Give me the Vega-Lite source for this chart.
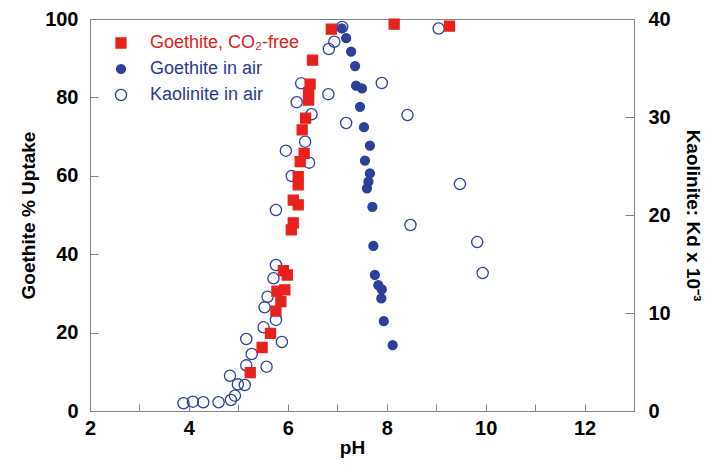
{
  "$schema": "https://vega.github.io/schema/vega-lite/v6.json",
  "width": 544,
  "height": 392,
  "autosize": {"type": "none"},
  "padding": {"left": 90, "top": 19, "right": 82, "bottom": 54},
  "background": "white",
  "config": {
    "font": "Liberation Sans",
    "view": {"stroke": "#808080", "strokeWidth": 1},
    "axis": {
      "grid": false,
      "domainColor": "#808080",
      "tickColor": "#808080",
      "labelFont": "Liberation Sans",
      "labelFontWeight": "bold",
      "labelFontSize": 20,
      "labelColor": "#000000",
      "labelFlush": false,
      "labelOverlap": false,
      "titleFont": "Liberation Sans",
      "titleFontWeight": "bold",
      "titleFontSize": 19,
      "titleColor": "#000000"
    }
  },
  "data": {
    "values": [
      {"series": "Kaolinite in air", "pH": 3.89, "kd": 0.79},
      {"series": "Kaolinite in air", "pH": 4.08, "kd": 0.95},
      {"series": "Kaolinite in air", "pH": 4.29, "kd": 0.89},
      {"series": "Kaolinite in air", "pH": 4.6, "kd": 0.89},
      {"series": "Kaolinite in air", "pH": 4.85, "kd": 1.12},
      {"series": "Kaolinite in air", "pH": 4.93, "kd": 1.56},
      {"series": "Kaolinite in air", "pH": 4.99, "kd": 2.72},
      {"series": "Kaolinite in air", "pH": 5.13, "kd": 2.65},
      {"series": "Kaolinite in air", "pH": 4.83, "kd": 3.6},
      {"series": "Kaolinite in air", "pH": 5.16, "kd": 4.66},
      {"series": "Kaolinite in air", "pH": 5.57, "kd": 4.52},
      {"series": "Kaolinite in air", "pH": 5.27, "kd": 5.82},
      {"series": "Kaolinite in air", "pH": 5.16, "kd": 7.35},
      {"series": "Kaolinite in air", "pH": 5.88, "kd": 7.04},
      {"series": "Kaolinite in air", "pH": 5.51, "kd": 8.54},
      {"series": "Kaolinite in air", "pH": 5.76, "kd": 9.29},
      {"series": "Kaolinite in air", "pH": 5.53, "kd": 10.58},
      {"series": "Kaolinite in air", "pH": 5.59, "kd": 11.66},
      {"series": "Kaolinite in air", "pH": 5.71, "kd": 13.54},
      {"series": "Kaolinite in air", "pH": 5.76, "kd": 14.9},
      {"series": "Kaolinite in air", "pH": 5.76, "kd": 20.51},
      {"series": "Kaolinite in air", "pH": 6.08, "kd": 23.98},
      {"series": "Kaolinite in air", "pH": 5.96, "kd": 26.56},
      {"series": "Kaolinite in air", "pH": 6.43, "kd": 25.34},
      {"series": "Kaolinite in air", "pH": 6.35, "kd": 27.48},
      {"series": "Kaolinite in air", "pH": 6.48, "kd": 30.28},
      {"series": "Kaolinite in air", "pH": 6.18, "kd": 31.51},
      {"series": "Kaolinite in air", "pH": 6.27, "kd": 33.44},
      {"series": "Kaolinite in air", "pH": 6.82, "kd": 32.33},
      {"series": "Kaolinite in air", "pH": 7.18, "kd": 29.39},
      {"series": "Kaolinite in air", "pH": 6.83, "kd": 36.94},
      {"series": "Kaolinite in air", "pH": 6.94, "kd": 37.68},
      {"series": "Kaolinite in air", "pH": 7.1, "kd": 39.18},
      {"series": "Kaolinite in air", "pH": 7.9, "kd": 33.47},
      {"series": "Kaolinite in air", "pH": 8.42, "kd": 30.2},
      {"series": "Kaolinite in air", "pH": 8.48, "kd": 18.98},
      {"series": "Kaolinite in air", "pH": 9.48, "kd": 23.16},
      {"series": "Kaolinite in air", "pH": 9.05, "kd": 39.03},
      {"series": "Kaolinite in air", "pH": 9.83, "kd": 17.24},
      {"series": "Kaolinite in air", "pH": 9.94, "kd": 14.08},

      {"series": "Goethite, CO₂-free", "pH": 5.24, "uptake": 9.8},
      {"series": "Goethite, CO₂-free", "pH": 5.48, "uptake": 16.2},
      {"series": "Goethite, CO₂-free", "pH": 5.65, "uptake": 19.8},
      {"series": "Goethite, CO₂-free", "pH": 5.76, "uptake": 25.5},
      {"series": "Goethite, CO₂-free", "pH": 5.86, "uptake": 27.9},
      {"series": "Goethite, CO₂-free", "pH": 5.78, "uptake": 30.6},
      {"series": "Goethite, CO₂-free", "pH": 5.94, "uptake": 30.9},
      {"series": "Goethite, CO₂-free", "pH": 5.91, "uptake": 35.8},
      {"series": "Goethite, CO₂-free", "pH": 5.99, "uptake": 34.7},
      {"series": "Goethite, CO₂-free", "pH": 6.07, "uptake": 46.2},
      {"series": "Goethite, CO₂-free", "pH": 6.11, "uptake": 48.0},
      {"series": "Goethite, CO₂-free", "pH": 6.21, "uptake": 52.6},
      {"series": "Goethite, CO₂-free", "pH": 6.11, "uptake": 53.8},
      {"series": "Goethite, CO₂-free", "pH": 6.21, "uptake": 57.7},
      {"series": "Goethite, CO₂-free", "pH": 6.21, "uptake": 59.8},
      {"series": "Goethite, CO₂-free", "pH": 6.25, "uptake": 63.6},
      {"series": "Goethite, CO₂-free", "pH": 6.33, "uptake": 65.7},
      {"series": "Goethite, CO₂-free", "pH": 6.29, "uptake": 71.7},
      {"series": "Goethite, CO₂-free", "pH": 6.36, "uptake": 74.7},
      {"series": "Goethite, CO₂-free", "pH": 6.42, "uptake": 79.3},
      {"series": "Goethite, CO₂-free", "pH": 6.42, "uptake": 81.1},
      {"series": "Goethite, CO₂-free", "pH": 6.45, "uptake": 83.4},
      {"series": "Goethite, CO₂-free", "pH": 6.5, "uptake": 89.5},
      {"series": "Goethite, CO₂-free", "pH": 6.88, "uptake": 97.4},
      {"series": "Goethite, CO₂-free", "pH": 8.15, "uptake": 98.7},
      {"series": "Goethite, CO₂-free", "pH": 9.27, "uptake": 98.2},

      {"series": "Goethite in air", "pH": 7.09, "uptake": 97.6},
      {"series": "Goethite in air", "pH": 7.18, "uptake": 95.1},
      {"series": "Goethite in air", "pH": 7.28, "uptake": 91.7},
      {"series": "Goethite in air", "pH": 7.36, "uptake": 88.0},
      {"series": "Goethite in air", "pH": 7.38, "uptake": 83.0},
      {"series": "Goethite in air", "pH": 7.5, "uptake": 82.3},
      {"series": "Goethite in air", "pH": 7.46, "uptake": 77.6},
      {"series": "Goethite in air", "pH": 7.54, "uptake": 72.4},
      {"series": "Goethite in air", "pH": 7.66, "uptake": 67.7},
      {"series": "Goethite in air", "pH": 7.56, "uptake": 63.9},
      {"series": "Goethite in air", "pH": 7.66, "uptake": 60.6},
      {"series": "Goethite in air", "pH": 7.63, "uptake": 58.5},
      {"series": "Goethite in air", "pH": 7.6, "uptake": 56.8},
      {"series": "Goethite in air", "pH": 7.71, "uptake": 52.1},
      {"series": "Goethite in air", "pH": 7.73, "uptake": 42.1},
      {"series": "Goethite in air", "pH": 7.76, "uptake": 34.7},
      {"series": "Goethite in air", "pH": 7.83, "uptake": 32.1},
      {"series": "Goethite in air", "pH": 7.9, "uptake": 31.0},
      {"series": "Goethite in air", "pH": 7.89, "uptake": 28.7},
      {"series": "Goethite in air", "pH": 7.94, "uptake": 22.9},
      {"series": "Goethite in air", "pH": 8.12, "uptake": 16.8}
    ]
  },
  "encoding": {
    "x": {
      "field": "pH",
      "type": "quantitative",
      "scale": {"domain": [2, 13], "nice": false, "zero": false},
      "axis": {
        "title": "pH",
        "format": "d",
        "values": [2, 2.5, 3, 3.5, 4, 4.5, 5, 5.5, 6, 6.5, 7, 7.5, 8, 8.5, 9, 9.5, 10, 10.5, 11, 11.5, 12, 12.5],
        "labelExpr": "datum.value % 2 === 0 ? datum.label : ''",
        "tickSize": -7,
        "labelPadding": 14,
        "titleX": 262,
        "titleY": 36,
        "titleBaseline": "middle",
        "titleAlign": "center"
      }
    }
  },
  "layer": [
    {
      "transform": [{"filter": "datum.series === 'Kaolinite in air'"}],
      "mark": {"type": "point", "opacity": 1, "strokeWidth": 1.3},
      "encoding": {
        "y": {
          "field": "kd",
          "type": "quantitative",
          "scale": {"domain": [0, 40], "nice": false},
          "axis": {
            "orient": "right",
            "title": "Kaolinite: Kd x 10⁻³",
            "values": [0, 10, 20, 30, 40],
            "tickSize": -9,
            "labelPadding": 23,
            "titleX": 58,
            "titleY": 196,
            "titleAngle": 90,
            "titleBaseline": "middle",
            "titleAlign": "center"
          }
        },
        "shape": {
          "field": "series",
          "type": "nominal",
          "scale": {"domain": ["Goethite, CO₂-free", "Goethite in air", "Kaolinite in air"], "range": ["square", "circle", "circle"]},
          "legend": {
            "title": null,
            "orient": "none",
            "legendX": 22,
            "legendY": 15,
            "labelFont": "Liberation Sans",
            "labelFontSize": 18,
            "labelFontWeight": "normal",
            "labelOffset": 20,
            "rowPadding": 8,
            "symbolStrokeWidth": 1.3,
            "labelColor": {"expr": "datum.label === 'Goethite, CO₂-free' ? '#e0201b' : '#2b3990'"}
          }
        },
        "fill": {
          "field": "series",
          "type": "nominal",
          "scale": {"domain": ["Goethite, CO₂-free", "Goethite in air", "Kaolinite in air"], "range": ["#e8211c", "#2c3f9b", "transparent"]}
        },
        "stroke": {
          "field": "series",
          "type": "nominal",
          "scale": {"domain": ["Goethite, CO₂-free", "Goethite in air", "Kaolinite in air"], "range": ["#e8211c", "#2c3f9b", "#2c3f9b"]}
        },
        "size": {
          "field": "series",
          "type": "nominal",
          "scale": {"type": "ordinal", "domain": ["Goethite, CO₂-free", "Goethite in air", "Kaolinite in air"], "range": [100, 80, 125]}
        }
      }
    },
    {
      "transform": [{"filter": "datum.series !== 'Kaolinite in air'"}],
      "mark": {"type": "point", "opacity": 1, "strokeWidth": 1.3},
      "encoding": {
        "y": {
          "field": "uptake",
          "type": "quantitative",
          "scale": {"domain": [0, 100], "nice": false},
          "axis": {
            "orient": "left",
            "title": "Goethite % Uptake",
            "values": [0, 20, 40, 60, 80, 100],
            "tickSize": -8,
            "labelPadding": 20,
            "titleX": -62,
            "titleY": 196,
            "titleAngle": -90,
            "titleBaseline": "middle",
            "titleAlign": "center"
          }
        },
        "shape": {
          "field": "series",
          "type": "nominal",
          "scale": {"domain": ["Goethite, CO₂-free", "Goethite in air", "Kaolinite in air"], "range": ["square", "circle", "circle"]}
        },
        "fill": {
          "field": "series",
          "type": "nominal",
          "scale": {"domain": ["Goethite, CO₂-free", "Goethite in air", "Kaolinite in air"], "range": ["#e8211c", "#2c3f9b", "transparent"]}
        },
        "stroke": {
          "field": "series",
          "type": "nominal",
          "scale": {"domain": ["Goethite, CO₂-free", "Goethite in air", "Kaolinite in air"], "range": ["#e8211c", "#2c3f9b", "#2c3f9b"]}
        },
        "size": {
          "field": "series",
          "type": "nominal",
          "scale": {"type": "ordinal", "domain": ["Goethite, CO₂-free", "Goethite in air", "Kaolinite in air"], "range": [100, 80, 125]}
        }
      }
    }
  ],
  "resolve": {"scale": {"y": "independent"}}
}
